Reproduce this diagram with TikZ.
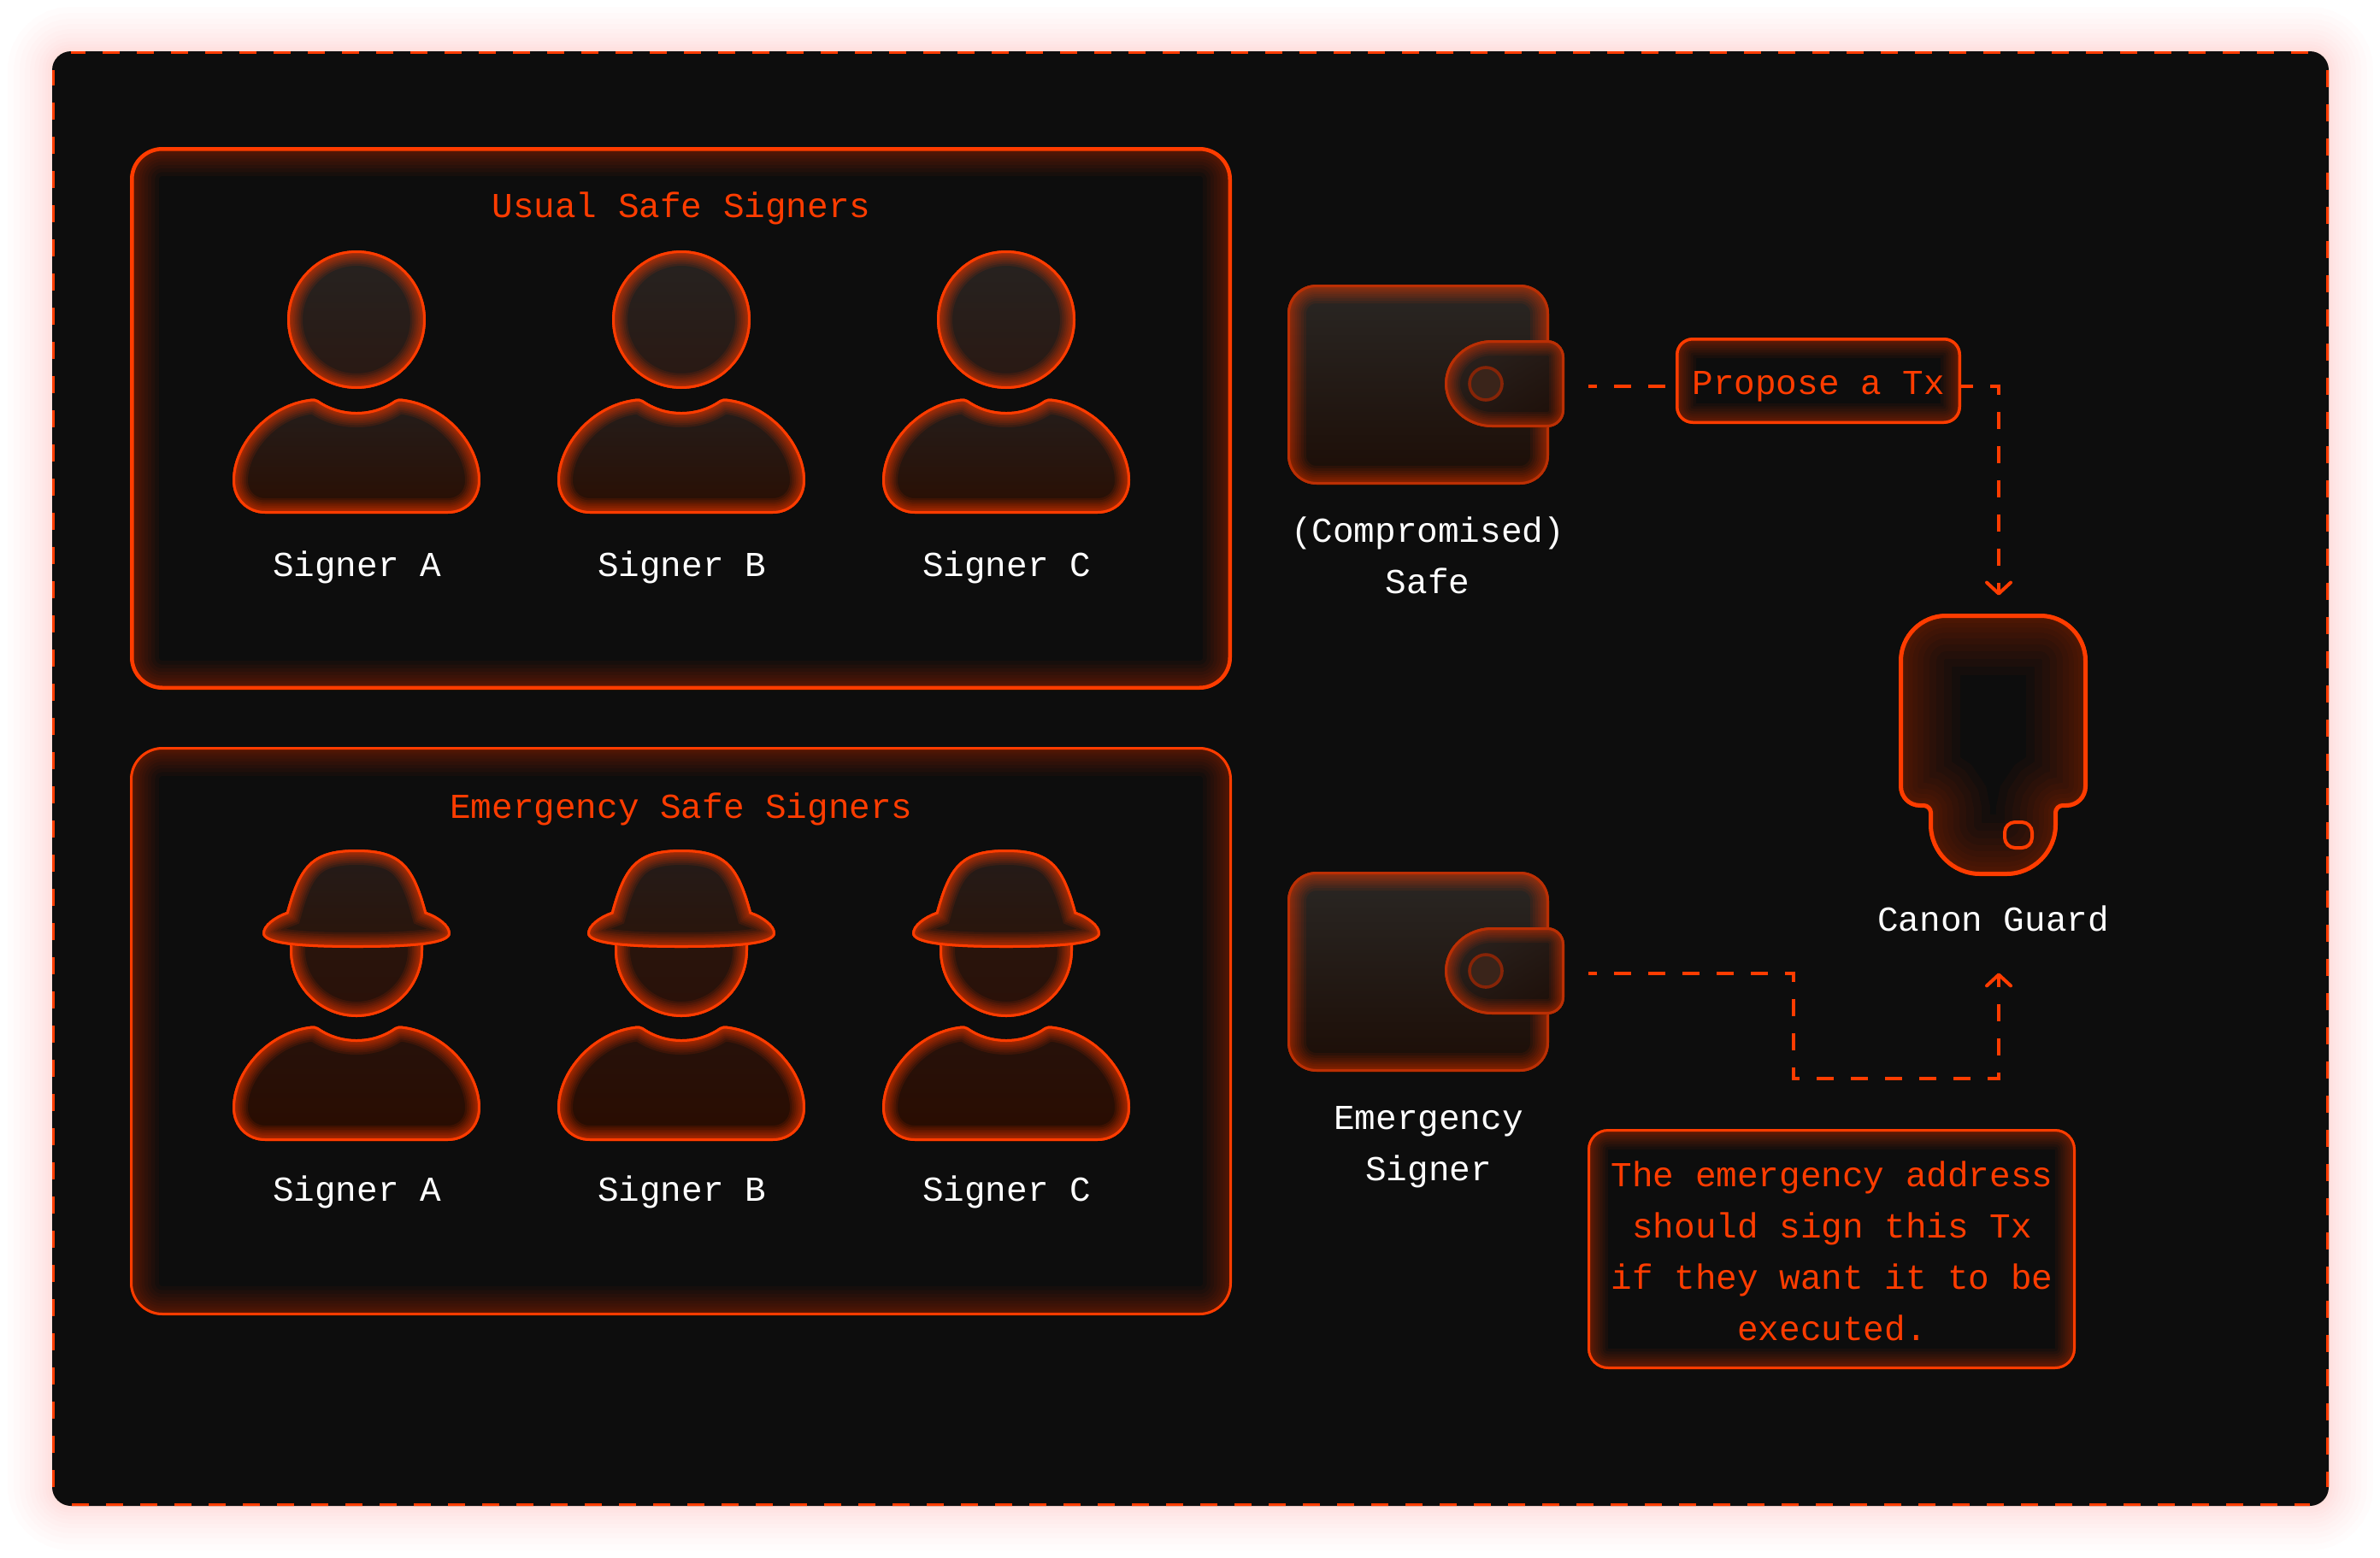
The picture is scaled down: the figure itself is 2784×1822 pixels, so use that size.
\documentclass[tikz,border=0pt]{standalone}
\usepackage{fontspec}
\usetikzlibrary{arrows.meta}
\newfontfamily\labelfont{Liberation Mono}
\definecolor{ember}{HTML}{FF3C00}
\definecolor{ink}{HTML}{0D0D0D}
\tikzset{
  flow/.style={draw=ember,line width=2pt,dash pattern=on 10pt off 10pt,
    -{Straight Barb[length=6.5pt,width=14pt,round]}},
  flowplain/.style={draw=ember,line width=2pt,dash pattern=on 10pt off 10pt},
  framedash/.style={draw=ember,line width=2.6pt},
  whitelabel/.style={text=white,font=\labelfont\fontsize{20.5}{30}\selectfont,align=center,inner sep=0pt},
  emberlabel/.style={text=ember,font=\labelfont\fontsize{20.5}{30}\selectfont,align=center,inner sep=0pt},
  anchorbox/.style={inner sep=0pt,minimum width=#1,draw=none},
}
% #1 path, #2 depth of the glow in px, #3 opacity of a layer, #4 outline width, #5 outline colour
\newcommand{\glowshape}[5]{%
  \begin{scope}
    \clip #1;
    \foreach \k in {1,...,12}{%
      \draw[draw=ember,opacity=#3,line width={pow(\k/12,1.7)*#2*1pt}] #1;
    }
    \draw[draw=#5,line width=#4] #1;
  \end{scope}
}
\def\headpath{(\cx,374) circle[radius=40.5pt]}
\def\bodypath{(\cx-45,468) .. controls (\cx-32,477) and (\cx-17,482) .. (\cx,482) .. controls (\cx+17,482) and (\cx+32,477) .. (\cx+45,468) .. controls (\cx+48,466.5) and (\cx+50,466.5) .. (\cx+52,466.5) .. controls (\cx+105,472) and (\cx+145,520) .. (\cx+145,562) .. controls (\cx+145,585) and (\cx+128,601) .. (\cx+107,601) -- (\cx-107,601) .. controls (\cx-128,601) and (\cx-145,585) .. (\cx-145,562) .. controls (\cx-145,520) and (\cx-105,472) .. (\cx-52,466.5) .. controls (\cx-50,466.5) and (\cx-48,466.5) .. (\cx-45,468) -- cycle}
\def\hatpath{(\cx,994) .. controls (\cx+52,994) and (\cx+67,1012) .. (\cx+82,1067) .. controls (\cx+96,1072) and (\cx+110,1082) .. (\cx+110,1092) .. controls (\cx+110,1105) and (\cx+70,1109) .. (\cx,1109) .. controls (\cx-70,1109) and (\cx-110,1105) .. (\cx-110,1092) .. controls (\cx-110,1082) and (\cx-96,1072) .. (\cx-82,1067) .. controls (\cx-67,1012) and (\cx-52,994) .. (\cx,994) -- cycle}
\def\facepath{(\cx-78,1075) -- (\cx+78,1075) -- (\cx+78,1112) .. controls (\cx+78,1155) and (\cx+43,1190) .. (\cx,1190) .. controls (\cx-43,1190) and (\cx-78,1155) .. (\cx-78,1112) -- cycle}
\def\walletpath{(1540,333) -- (1778,333) .. controls (1797,333) and (1812,348) .. (1812,367) -- (1812,533) .. controls (1812,552) and (1797,567) .. (1778,567) -- (1540,567) .. controls (1521,567) and (1506,552) .. (1506,533) -- (1506,367) .. controls (1506,348) and (1521,333) .. (1540,333) -- cycle}
\def\flappath{(1745,398) -- (1810,398) .. controls (1821,398) and (1830,407) .. (1830,418) -- (1830,480) .. controls (1830,491) and (1821,500) .. (1810,500) -- (1745,500) .. controls (1715,500) and (1690,477) .. (1690,449) .. controls (1690,421) and (1715,398) .. (1745,398) -- cycle}
\def\guardpath{(2276,718) -- (2387,718) .. controls (2417,718) and (2442,743) .. (2442,773) -- (2442,920) .. controls (2442,934) and (2431,945) .. (2417,945) -- (2413,945) .. controls (2409.7,945) and (2407,947.7) .. (2407,951) -- (2407,965) .. controls (2407,998) and (2380,1025) .. (2347,1025) -- (2316,1025) .. controls (2283,1025) and (2256,998) .. (2256,965) -- (2256,951) .. controls (2256,947.7) and (2253.3,945) .. (2250,945) -- (2246,945) .. controls (2232,945) and (2221,934) .. (2221,920) -- (2221,773) .. controls (2221,743) and (2246,718) .. (2276,718) -- cycle}
\newcommand{\wallet}{%
  \shade[shading angle=40,top color={rgb,255:red,42;green,39;blue,36},bottom color={rgb,255:red,28;green,13;blue,6}] \walletpath;
  \glowshape{\walletpath}{22}{0.07}{3pt}{ember!72!ink}
  \shade[top color={rgb,255:red,42;green,34;blue,30},bottom color={rgb,255:red,30;green,16;blue,10},shading angle=30] \flappath;
  \glowshape{\flappath}{18}{0.07}{3pt}{ember!72!ink}
  \fill[fill={rgb,255:red,58;green,36;blue,26}] (1738,449) circle[radius=9.5pt];
  \draw[draw=ember!50!ink,line width=1.8pt] (1738,449) circle[radius=9.5pt];
}
\begin{document}
\begin{tikzpicture}[x=0.5pt,y=-0.5pt]
\useasboundingbox (0,0) rectangle (2784,1822);
\fill[white] (0,0) rectangle (2784,1822);
% halo and frame
\foreach \k in {1,...,12}{%
  \draw[draw=ember,opacity=0.011,rounded corners=11pt,line width={pow(\k/12,1.7)*52*1pt}] (61,60) rectangle (2724,1762);
}
\fill[ink,rounded corners=11pt] (61,60) rectangle (2724,1762);
\begin{scope}
  \clip[rounded corners=11pt] (61,60) rectangle (2724,1762);
  \draw[framedash,dash pattern=on 10pt off 10pt,dash phase=1.5pt] (83,60) -- (2702,60);
  \draw[framedash,dash pattern=on 10pt off 10pt,dash phase=19.5pt] (83,1762) -- (2702,1762);
  \draw[framedash,dash pattern=on 10pt off 10pt,dash phase=1pt] (61,82) -- (61,1740);
  \draw[framedash,dash pattern=on 10pt off 10pt] (2724,82) -- (2724,1740);
\end{scope}
% panels
\glowshape{[rounded corners=19pt] (152,172) rectangle (1441,807)}{34}{0.045}{4.5pt}{ember}
\glowshape{[rounded corners=19pt] (152,874) rectangle (1441,1539)}{34}{0.04}{3pt}{ember}
\node[emberlabel] (usualtitle) at (797,243.5) {Usual Safe Signers};
\node[emberlabel] (emergtitle) at (797,946.5) {Emergency Safe Signers};
% usual signers
\foreach \cx in {417,797,1177}{%
  \shade[top color={rgb,255:red,38;green,35;blue,33},bottom color={rgb,255:red,42;green,24;blue,18}] \headpath;
  \glowshape{\headpath}{18}{0.1}{3pt}{ember}
  \shade[top color={rgb,255:red,36;green,30;blue,28},bottom color={rgb,255:red,42;green,14;blue,2}] \bodypath;
  \glowshape{\bodypath}{18}{0.1}{3pt}{ember}
}
\node[whitelabel] (ua) at (417.5,663.5) {Signer A};
\node[whitelabel] (ub) at (797.5,663.5) {Signer B};
\node[whitelabel] (uc) at (1177.5,663.5) {Signer C};
% emergency signers
\foreach \cx in {417,797,1177}{%
  \shade[top color={rgb,255:red,40;green,22;blue,14},bottom color={rgb,255:red,42;green,16;blue,8}] \facepath;
  \glowshape{\facepath}{18}{0.1}{3pt}{ember}
  \shade[top color={rgb,255:red,36;green,28;blue,26},bottom color={rgb,255:red,42;green,20;blue,10}] \hatpath;
  \glowshape{\hatpath}{18}{0.1}{3pt}{ember}
  \begin{scope}[yshift=-367pt]
    \shade[top color={rgb,255:red,38;green,18;blue,12},bottom color={rgb,255:red,42;green,12;blue,0}] \bodypath;
    \glowshape{\bodypath}{18}{0.1}{3pt}{ember}
  \end{scope}
}
\node[whitelabel] (ea) at (417.5,1395) {Signer A};
\node[whitelabel] (eb) at (797.5,1395) {Signer B};
\node[whitelabel] (ec) at (1177.5,1395) {Signer C};
% wallets
\node[anchorbox=162pt,minimum height=117pt] (wallet1) at (1668,452) {};
\wallet
\begin{scope}[yshift=-343.5pt]
  \wallet
\end{scope}
\node[anchorbox=162pt,minimum height=117pt] (wallet2) at (1668,1139) {};
\node[whitelabel] (wallet1label) at (1670,650) {(Compromised)\\Safe};
\node[whitelabel] (wallet2label) at (1671,1342.5) {Emergency\\Signer};
% guard
\node[anchorbox=110.5pt,minimum height=153.5pt] (guard) at (2331.5,871.5) {};
\glowshape{\guardpath}{72}{0.035}{5pt}{ember}
\draw[draw=ember,line width=2pt,rounded corners=6pt] (2345,962) rectangle (2377,992);
\node[whitelabel] (guardlabel) at (2331.5,1075) {Canon Guard};
% propose box
\glowshape{[rounded corners=10pt] (1960,395) rectangle (2294,496)}{24}{0.05}{3.5pt}{ember}
\node[inner sep=0pt,minimum width=166pt,minimum height=49.5pt] (propose) at (2127,445.5) {};
\node[emberlabel] (proposetext) at (2127,452) {Propose a Tx};
% note box
\glowshape{[rounded corners=12pt] (1857,1321) rectangle (2428,1602)}{24}{0.05}{3pt}{ember}
\node[emberlabel] (note) at (2143,1464) {The emergency address\\should sign this Tx\\if they want it to be\\executed.};
% connectors
\coordinate (bendone) at (2338,452);
\coordinate (bendtwo) at (2098,1139);
\coordinate (bendthree) at (2098,1262);
\coordinate (bendfour) at (2338,1262);
\draw[flowplain,dash phase=5pt,shorten <=14pt] (wallet1.east) -- (wallet1.east -| propose.west);
\draw[flow,dash phase=2.5pt,shorten >=10.5pt] (wallet1.east -| propose.east) -- (bendone) -- (bendone |- guard.north);
\draw[flow,dash phase=5pt,shorten <=14pt,shorten >=56.5pt] (wallet2.east) -- (bendtwo) -- (bendthree) -- (bendfour) -- (bendfour |- guard.south);
\end{tikzpicture}
\end{document}
